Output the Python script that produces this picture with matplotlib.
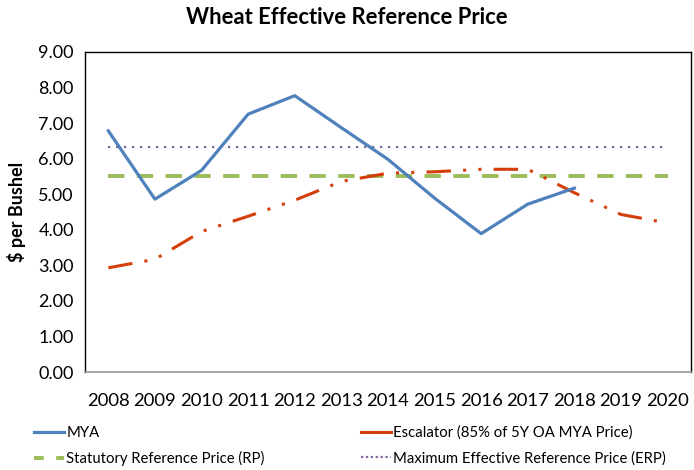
import matplotlib
matplotlib.use("Agg")
import matplotlib.pyplot as plt
from matplotlib.lines import Line2D

plt.rcParams["font.family"] = ["Lato", "DejaVu Sans"]

BLUE, RED, GREEN, PURPLE = "#4F81BD", "#D43E0A", "#9BBB59", "#8064A2"

years = [2008, 2009, 2010, 2011, 2012, 2013, 2014, 2015, 2016, 2017, 2018, 2019, 2020]
mya = [6.78, 4.86, 5.67, 7.25, 7.77, 6.87, 5.98, 4.89, 3.89, 4.72, 5.17]
escalator = [2.93, 3.17, 3.95, 4.38, 4.83, 5.36, 5.59, 5.63, 5.70, 5.70, 5.04, 4.43, 4.19]
statutory_rp = [5.50] * len(years)
max_erp = [6.32] * len(years)

fig = plt.figure(figsize=(6.94, 4.70), dpi=100)
ax = fig.add_axes([0.1225, 0.2085, 0.873, 0.681])

x = list(range(len(years)))
ax.plot(x, max_erp, color=PURPLE, lw=1.6, dashes=(1, 2.6))
ax.plot(x, statutory_rp, color=GREEN, lw=2.8, dashes=(4.2, 3.2))
ax.plot(x, escalator, color=RED, lw=2.2, dashes=(8, 4, 1, 4, 1, 4))
ax.plot(x[:len(mya)], mya, color=BLUE, lw=2.3)

ax.set_xlim(-0.5, len(years) - 0.5)
ax.set_ylim(0, 9)
ax.set_xticks(x)
ax.set_xticklabels([str(y) for y in years], fontsize=13.3)
ax.set_yticks([i for i in range(10)])
ax.set_yticklabels([f"{i:.2f}" for i in range(10)], fontsize=13)
ax.tick_params(length=0, colors="black")
ax.tick_params(axis="x", pad=15)
ax.tick_params(axis="y", pad=8)
for s in ["left", "top", "right"]:
    ax.spines[s].set_color("black")
    ax.spines[s].set_linewidth(1.0)
ax.spines["bottom"].set_color("#999999")
ax.spines["bottom"].set_linewidth(1.2)

ax.set_ylabel("$ per Bushel", fontsize=13, fontweight="bold", labelpad=9)
fig.text(0.5, 0.962, "Wheat Effective Reference Price", ha="center", va="center",
         fontsize=15.8, fontweight="bold")

handles = [
    Line2D([], [], color=BLUE, lw=2.3),
    Line2D([], [], color=GREEN, lw=2.8, dashes=(2.5, 3.2)),
    Line2D([], [], color=RED, lw=2.2),
    Line2D([], [], color=PURPLE, lw=1.6, dashes=(1, 1.2)),
]
labels = ["MYA", "Statutory Reference Price (RP)",
          "Escalator (85% of 5Y OA MYA Price)", "Maximum Effective Reference Price (ERP)"]
fig.legend(handles, labels, ncol=2, loc="lower left", bbox_to_anchor=(0.03, -0.02),
           frameon=False, fontsize=10.7, handlelength=2.0, handletextpad=0.15,
           columnspacing=6.5, labelspacing=0.75)

fig.savefig("out.png", dpi=100)
